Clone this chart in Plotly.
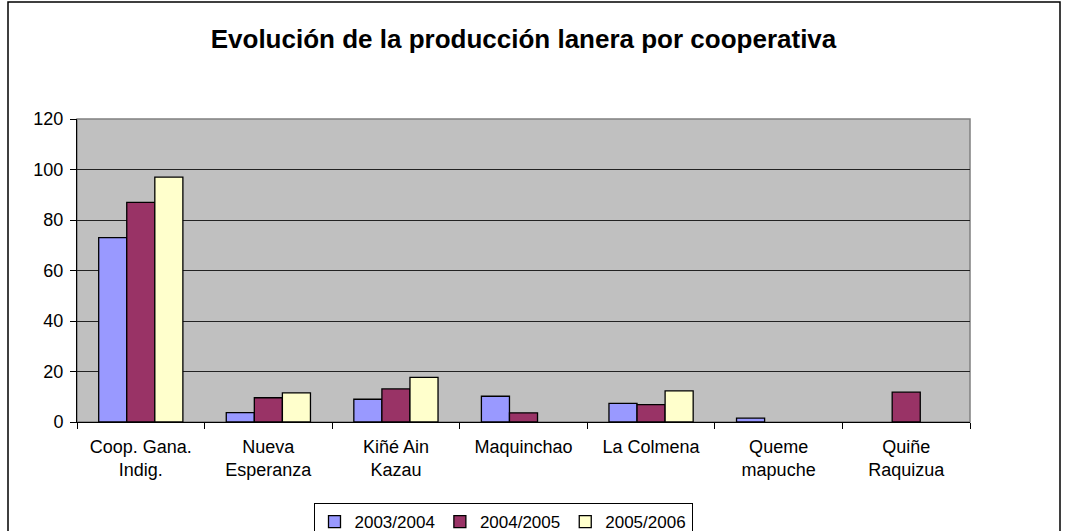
import plotly.graph_objects as go

categories = ["Coop. Gana.<br>Indig.", "Nueva<br>Esperanza", "Kiñé Ain<br>Kazau", "Maquinchao",
              "La Colmena", "Queme<br>mapuche", "Quiñe<br>Raquizua"]
series_names = ["2003/2004", "2004/2005", "2005/2006"]
v2003 = [73, 3.7, 9.0, 10.2, 7.4, 1.5, None]
v2004 = [87, 9.6, 13.1, 3.6, 6.9, None, 11.8]
v2005 = [97, 11.5, 17.7, None, 12.3, None, None]
colors = ["#9999FF", "#993366", "#FFFFCC"]
y_ticks = [0, 20, 40, 60, 80, 100, 120]

W, H = 1077, 531
L, R, T, B = 77, 970, 119, 422

fig = go.Figure()
for name, vals, c in zip(series_names, [v2003, v2004, v2005], colors):
    fig.add_trace(go.Bar(x=categories, y=vals, name=name, marker_color=c,
                         marker_line_color="black", marker_line_width=1.3))

def px2x(p):
    return (p - L) / (R - L)

def px2y(p):
    return (B - p) / (B - T)

fig.update_layout(
    width=W, height=H,
    margin=dict(l=L, r=W - R, t=T, b=H - B, autoexpand=False),
    paper_bgcolor="white", plot_bgcolor="#C0C0C0",
    barmode="group", bargap=0.34, bargroupgap=0,
    font=dict(family="Liberation Sans, Arial", size=18, color="black"),
    title=dict(text="<b>Evolución de la producción lanera por cooperativa</b>",
               x=0.5, xref="paper", xanchor="center", y=1 - 39 / H, yanchor="middle",
               font=dict(size=26, family="Liberation Sans, Arial", color="black")),
    showlegend=True,
    legend=dict(orientation="h", x=px2x(503), xanchor="center", y=px2y(503), yanchor="top",
                bordercolor="black", borderwidth=1, bgcolor="white",
                font=dict(size=17), traceorder="normal", itemwidth=30),
    xaxis=dict(type="category", tickson="boundaries", ticks="outside", ticklen=6,
               tickcolor="black", showline=True, linecolor="black", linewidth=1,
               showgrid=False, tickfont=dict(size=18), range=[-0.5, 6.5],
               ticklabelstandoff=8),
    yaxis=dict(range=[0, 120], tickvals=y_ticks, ticks="outside", ticklen=6,
               tickcolor="black", showline=True, linecolor="black", linewidth=1,
               showgrid=True, gridcolor="#222222", gridwidth=1, zeroline=False,
               tickfont=dict(size=18), ticklabelstandoff=3),
    shapes=[
        dict(type="rect", xref="paper", yref="paper", x0=0, x1=1, y0=0, y1=1,
             line=dict(color="#808080", width=1.5), layer="below"),
        dict(type="rect", xref="paper", yref="paper", x0=px2x(8), x1=px2x(1060),
             y0=px2y(540), y1=px2y(2), line=dict(color="black", width=1.5)),
    ],
)

fig.write_html("out.html", config={"displayModeBar": False},
               post_script="document.body.style.margin='0px';")
